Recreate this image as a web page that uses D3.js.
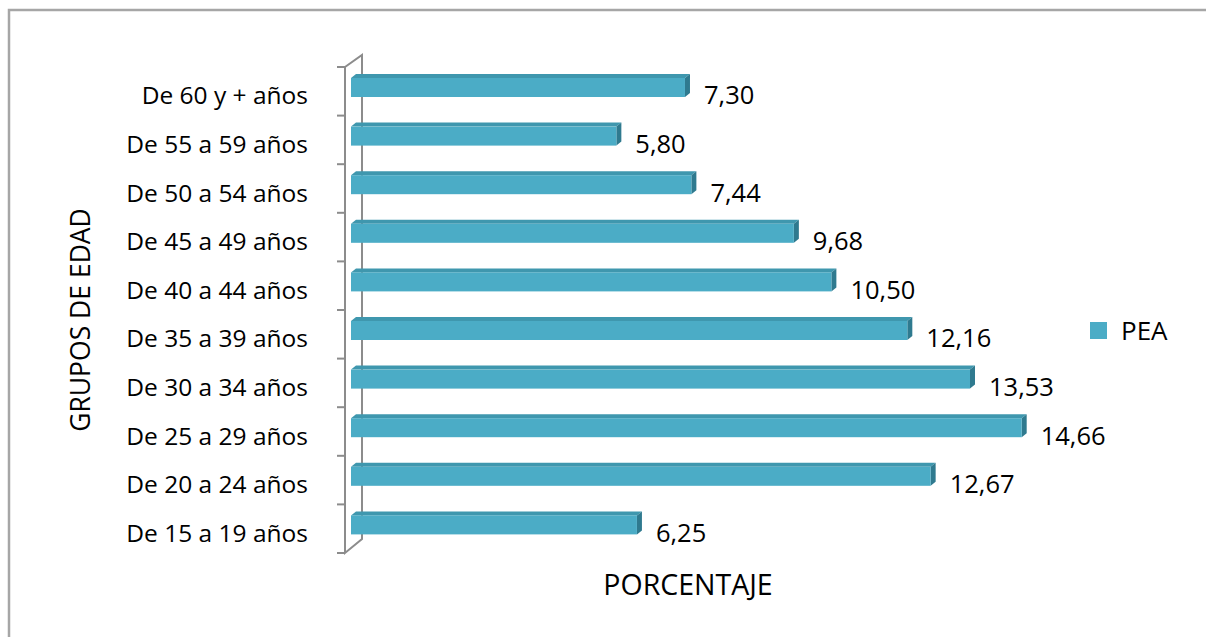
<!DOCTYPE html>
<html>
<head>
<meta charset="utf-8">
<script src="https://cdn.jsdelivr.net/npm/d3@7"></script>
<style>
  body { margin: 0; background: #fff; }
  text { font-family: "Open Sans", "Noto Sans", sans-serif; fill: #000; }
</style>
</head>
<body>
<div id="d3-container"></div>
<script>
const groups = ["De 60 y + años", "De 55 a 59 años", "De 50 a 54 años", "De 45 a 49 años",
  "De 40 a 44 años", "De 35 a 39 años", "De 30 a 34 años", "De 25 a 29 años",
  "De 20 a 24 años", "De 15 a 19 años"];
const pea = [7.30, 5.80, 7.44, 9.68, 10.50, 12.16, 13.53, 14.66, 12.67, 6.25];
const seriesName = "PEA";

const width = 1206;
const height = 637;

const svg = d3.select('#d3-container')
  .append('svg')
  .attr('width', width)
  .attr('height', height);

// chart frame
svg.append("rect")
  .attr("x", 9).attr("y", 10)
  .attr("width", 1240).attr("height", 700)
  .attr("fill", "none")
  .attr("stroke", "#a6a6a6")
  .attr("stroke-width", 2.5);

const y = d3.scaleBand()
  .domain(groups)
  .range([67, 553]);

const x = d3.scaleLinear()
  .domain([0, 16])
  .range([351, 1083]);

const dx = 5, dy = 4;       // 3d depth offset
const barTop = 11, barH = 19;

// axis wall
const wall = svg.append("g")
  .attr("stroke", "#8c8c8c")
  .attr("stroke-width", 2)
  .attr("fill", "none");
const y0 = y.range()[0], y1 = y.range()[1];
wall.append("path").attr("d", `M345,${y0} L345,${y1} L362,${y1 - 14} L362,${y0 - 12} L345,${y0}`);
wall.selectAll("line")
  .data(d3.range(groups.length + 1))
  .join("line")
    .attr("x1", 337).attr("x2", 345)
    .attr("y1", i => y0 + i * y.step())
    .attr("y2", i => y0 + i * y.step());

const bars = svg.append("g")
  .selectAll("g")
  .data(pea.map((v, i) => ({ group: groups[i], value: v })))
  .join("g");

// top face
bars.append("path")
  .attr("fill", "#3f97ae")
  .attr("d", d => {
    const a = x(0), b = x(d.value), t = y(d.group) + barTop;
    return `M${a},${t} L${a + dx},${t - dy} L${b + dx},${t - dy} L${b},${t} Z`;
  });
// side face
bars.append("path")
  .attr("fill", "#2f7a8f")
  .attr("d", d => {
    const b = x(d.value), t = y(d.group) + barTop;
    return `M${b},${t} L${b + dx},${t - dy} L${b + dx},${t + barH - dy} L${b},${t + barH} Z`;
  });
// front face
bars.append("rect")
  .attr("fill", "#4bacc6")
  .attr("x", x(0))
  .attr("y", d => y(d.group) + barTop)
  .attr("width", d => x(d.value) - x(0))
  .attr("height", barH);

const es = d3.formatLocale({ decimal: ",", thousands: ".", grouping: [3], currency: ["", ""] });
const fmt = es.format(".2f");

bars.append("text")
  .attr("x", d => x(d.value) + 19)
  .attr("y", d => y(d.group) + y.bandwidth() / 2 + 13)
  .attr("font-size", "25.5px")
  .text(d => fmt(d.value));

// category labels
svg.append("g")
  .selectAll("text")
  .data(groups)
  .join("text")
    .attr("x", 308)
    .attr("y", d => y(d) + y.bandwidth() / 2 + 13)
    .attr("text-anchor", "end")
    .attr("font-size", "24.5px")
    .text(d => d);

// axis titles
svg.append("text")
  .attr("x", 688).attr("y", 595)
  .attr("text-anchor", "middle")
  .attr("font-size", "28.5px")
  .text("PORCENTAJE");

svg.append("text")
  .attr("transform", "translate(90,320) rotate(-90)")
  .attr("text-anchor", "middle")
  .attr("font-size", "26.5px")
  .text("GRUPOS DE EDAD");

// legend
const legend = svg.append("g").attr("transform", "translate(1090,322)");
legend.append("rect").attr("width", 17).attr("height", 17).attr("fill", "#4bacc6");
legend.append("text")
  .attr("x", 31).attr("y", 18)
  .attr("font-size", "26px")
  .text(seriesName);
</script>
</body>
</html>
